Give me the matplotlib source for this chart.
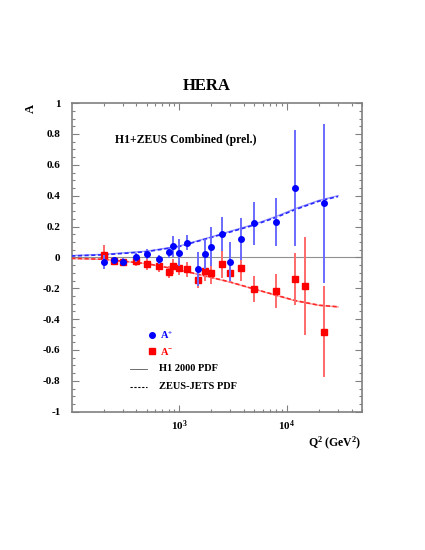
import math
import matplotlib
matplotlib.use("Agg")
import matplotlib.pyplot as plt
from matplotlib.ticker import FixedLocator, LogLocator, FuncFormatter, MultipleLocator, NullFormatter

plt.rcParams['font.family'] = ['Liberation Serif', 'DejaVu Serif']
plt.rcParams['font.weight'] = 'bold'
plt.rcParams['mathtext.fontset'] = 'custom'
plt.rcParams['mathtext.rm'] = 'Liberation Serif:bold'
plt.rcParams['mathtext.it'] = 'Liberation Serif:bold'
plt.rcParams['mathtext.bf'] = 'Liberation Serif:bold'

# ---- data ----
q2_plus = [200, 250, 300, 400, 500, 650, 800, 880, 1000, 1200, 1500, 1750, 2000,
           2500, 3000, 3750, 5000, 8000, 12000, 22000]
a_plus = [-0.03, -0.02, -0.027, 0.0, 0.022, -0.012, 0.032, 0.071, 0.030, 0.096,
          -0.075, 0.022, 0.070, 0.154, -0.028, 0.118, 0.221, 0.232, 0.452, 0.351]
err_plus = [0.045, 0.02, 0.02, 0.03, 0.03, 0.03, 0.035, 0.07, 0.087, 0.05,
            0.11, 0.1, 0.125, 0.11, 0.125, 0.135, 0.14, 0.155, 0.375, 0.515]

q2_minus = [200, 250, 300, 400, 500, 650, 800, 880, 1000, 1200, 1500, 1750, 2000,
            2500, 3000, 3750, 5000, 8000, 12000, 14800, 22000]
a_minus = [0.013, -0.026, -0.03, -0.024, -0.043, -0.056, -0.093, -0.058, -0.071, -0.078,
           -0.144, -0.088, -0.102, -0.045, -0.1, -0.067, -0.205, -0.215, -0.141, -0.186, -0.483]
err_minus = [0.068, 0.026, 0.026, 0.032, 0.04, 0.038, 0.038, 0.05, 0.045, 0.048,
             0.055, 0.063, 0.07, 0.087, 0.065, 0.087, 0.085, 0.11, 0.17, 0.316, 0.295]

q2_theory = [100, 200, 500, 1000, 2000, 3000, 5000, 8000, 12000, 20000, 30000]
h1_plus = [0.012, 0.02, 0.04, 0.073, 0.133, 0.17, 0.215, 0.266, 0.316, 0.37, 0.40]
zeus_plus = [0.009, 0.017, 0.037, 0.07, 0.13, 0.165, 0.21, 0.26, 0.31, 0.365, 0.395]
h1_minus = [-0.008, -0.013, -0.041, -0.081, -0.131, -0.161, -0.206, -0.246, -0.281, -0.311, -0.321]
zeus_minus = [-0.006, -0.012, -0.04, -0.08, -0.13, -0.16, -0.205, -0.245, -0.28, -0.31, -0.32]

fig = plt.figure(figsize=(4.25, 5.5), dpi=100)
ax = fig.add_axes([0.1687, 0.2515, 0.683, 0.561])

ax.axhline(0, color='#909090', lw=0.8, zorder=1)

ax.plot(q2_theory, h1_plus, color='#9a9aff', lw=1.0, zorder=2)
ax.plot(q2_theory, zeus_plus, color='#2a2aff', lw=1.2, ls=(0, (2.5, 1.5)), zorder=3)
ax.plot(q2_theory, h1_minus, color='#ff9a9a', lw=1.0, zorder=2)
ax.plot(q2_theory, zeus_minus, color='#ff2a2a', lw=1.2, ls=(0, (2.5, 1.5)), zorder=3)

ax.errorbar(q2_plus, a_plus, yerr=err_plus, fmt='o', color='#0000ff', ms=4.0,
            ecolor='#6a6aff', elinewidth=1.4, capsize=0, zorder=5)
ax.errorbar(q2_minus, a_minus, yerr=err_minus, fmt='s', color='#ff0000', ms=4.2,
            ecolor='#ff6a6a', elinewidth=1.4, capsize=0, zorder=4)

ax.set_xscale('log')
ax.set_xlim(101, 50000)
ax.set_ylim(-1, 1)
ax.xaxis.set_major_locator(FixedLocator([1e3, 1e4]))
ax.xaxis.set_minor_locator(LogLocator(base=10, subs=range(2, 10)))
ax.xaxis.set_minor_formatter(NullFormatter())
ax.xaxis.set_major_formatter(FuncFormatter(lambda v, p: r'$10^{%d}$' % round(math.log10(v))))
ax.yaxis.set_major_locator(MultipleLocator(0.2))
ax.yaxis.set_minor_locator(MultipleLocator(0.05))
ax.yaxis.set_major_formatter(FuncFormatter(lambda v, p: '%g' % round(v, 2)))

ax.tick_params(which='both', direction='in', top=True, right=True, colors='#808080',
               labelcolor='black', labelsize=8)
ax.tick_params(which='major', length=5, width=0.8)
ax.tick_params(which='minor', length=2.5, width=0.8)
ax.tick_params(axis='y', pad=8)
ax.tick_params(axis='x', pad=5)
for s in ax.spines.values():
    s.set_color('#808080')
    s.set_linewidth(1.2)

fig.text(0.487, 0.843, 'HERA', ha='center', va='center', fontsize=12, fontweight='bold')
fig.text(0.072, 0.803, 'A', ha='center', va='center', rotation=90, fontsize=9, fontweight='bold')
fig.text(0.85, 0.194, r'Q$^{2}$ (GeV$^{2}$)', ha='right', va='center', fontsize=8.5, fontweight='bold')
ax.text(0.15, 0.88, 'H1+ZEUS Combined (prel.)', transform=ax.transAxes, ha='left', va='center',
        fontsize=8.5, fontweight='bold')

# legend
ax.plot([0.277], [0.248], transform=ax.transAxes, marker='o', color='#0000ff', ms=4.0, clip_on=False)
ax.text(0.305, 0.248, r'A$^{+}$', transform=ax.transAxes, color='#0000ff', va='center', fontsize=7.5)
ax.plot([0.277], [0.196], transform=ax.transAxes, marker='s', color='#ff0000', ms=4.0, clip_on=False)
ax.text(0.305, 0.196, r'A$^{-}$', transform=ax.transAxes, color='#ff0000', va='center', fontsize=7.5)
ax.plot([0.2, 0.26], [0.139, 0.139], transform=ax.transAxes, color='#555555', lw=0.6)
ax.text(0.30, 0.139, 'H1 2000 PDF', transform=ax.transAxes, va='center', fontsize=7.5)
ax.plot([0.2, 0.26], [0.080, 0.080], transform=ax.transAxes, color='black', lw=0.8, ls=(0, (2, 1.5)))
ax.text(0.30, 0.080, 'ZEUS-JETS PDF', transform=ax.transAxes, va='center', fontsize=7.5)

fig.savefig('out.png', dpi=100)
